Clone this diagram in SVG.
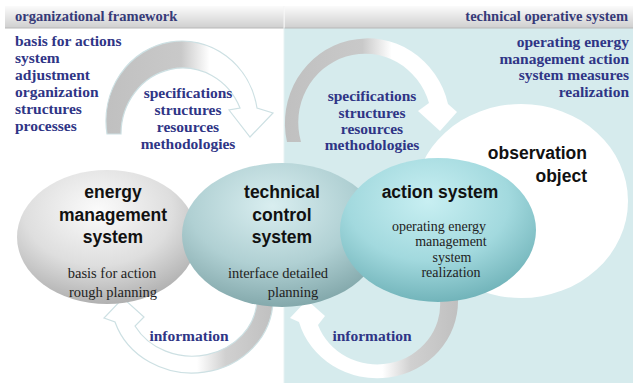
<svg xmlns="http://www.w3.org/2000/svg" width="633" height="383" viewBox="0 0 633 383">
<defs>
<style>
.hdr{font-family:"Liberation Serif","DejaVu Serif",serif;font-weight:bold;font-size:14.5px;fill:#363a78}
.lst{font-family:"Liberation Serif","DejaVu Serif",serif;font-weight:bold;font-size:15.5px;fill:#2f3586}
.ttl{font-family:"Liberation Sans",Arial,sans-serif;font-weight:bold;font-size:17.5px;fill:#111}
.sub{font-family:"Liberation Serif","DejaVu Serif",serif;font-size:14.5px;fill:#222}
.mid{text-anchor:middle}
.end{text-anchor:end}
.arrW{stroke:#cde0e3;stroke-width:1.2}
</style>
<linearGradient id="gHdr" x1="0" y1="0" x2="0" y2="1">
<stop offset="0" stop-color="#fbfbfb"/><stop offset="1" stop-color="#cfcfcf"/>
</linearGradient>
<linearGradient id="gArrL" x1="0" y1="0" x2="1" y2="0">
<stop offset="0" stop-color="#c0c0c0"/><stop offset="0.45" stop-color="#c9c9c9"/><stop offset="0.62" stop-color="#ffffff"/><stop offset="1" stop-color="#ffffff"/>
</linearGradient>
<linearGradient id="gArrR" x1="0" y1="0" x2="1" y2="0">
<stop offset="0" stop-color="#ffffff"/><stop offset="0.55" stop-color="#ffffff"/><stop offset="0.72" stop-color="#d0d0d0"/><stop offset="1" stop-color="#c0c0c0"/>
</linearGradient>
<radialGradient id="gEnergy" cx="0.45" cy="0.3" r="0.75">
<stop offset="0" stop-color="#fbfbfb"/><stop offset="0.55" stop-color="#dedede"/><stop offset="1" stop-color="#a9a9a9"/>
</radialGradient>
<radialGradient id="gTech" cx="0.45" cy="0.3" r="0.75">
<stop offset="0" stop-color="#d9eef0"/><stop offset="0.55" stop-color="#b0d0d3"/><stop offset="1" stop-color="#7ca2a5"/>
</radialGradient>
<radialGradient id="gAction" cx="0.45" cy="0.3" r="0.75">
<stop offset="0" stop-color="#c8eff2"/><stop offset="0.55" stop-color="#a2d9de"/><stop offset="1" stop-color="#6aaeb4"/>
</radialGradient>
</defs>

<g id="background">
<rect x="0" y="0" width="633" height="383" fill="#ffffff"/>
<rect x="284" y="28" width="349" height="355" fill="#d6ebed"/>
<rect x="5" y="6" width="279" height="22" fill="url(#gHdr)"/>
<rect x="284.5" y="6" width="348.5" height="22" fill="url(#gHdr)"/>
<line x1="5" y1="28" x2="633" y2="28" stroke="#b8b8b8" stroke-width="1"/>
<line x1="284" y1="6" x2="284" y2="28" stroke="#f4f4f4" stroke-width="1"/>
<line x1="284" y1="28" x2="284" y2="383" stroke="#e6f2f3" stroke-width="1"/>
<text class="hdr" x="15" y="21">organizational framework</text>
<text class="hdr end" x="628" y="21">technical operative system</text>
</g>

<g id="connectors">
<path class="arrW" d="M107,134 A76,80 0 0 1 257,108 L273,113 L250,137 L229,110 L240,108 A62,66 0 0 0 121,134 Z" fill="url(#gArrL)"/>
<path d="M287,142 A80,82 0 0 1 448,104 L457,112 L440,131 L418,111 L429,103 A66,68 0 0 0 301,142 Z" fill="url(#gArrL)"/>
<path class="arrW" d="M273,300 A81,74 0 0 1 115,322 L104,318 L123,298 L144,317 L135,326 A65,58 0 0 0 257,300 Z" fill="url(#gArrR)"/>
<path d="M458,300 A81,77 0 0 1 299,322 L290,318 L307,300 L325,316 L318,325 A63,60 0 0 0 440,300 Z" fill="url(#gArrR)"/>
</g>

<g id="node-energy-management-system">
<ellipse cx="107" cy="237" rx="90" ry="67" fill="url(#gEnergy)"/>
<text class="ttl mid" x="113" y="198">energy</text>
<text class="ttl mid" x="113" y="221">management</text>
<text class="ttl mid" x="113" y="243">system</text>
<text class="sub mid" x="112" y="278">basis for action</text>
<text class="sub mid" x="113" y="297">rough planning</text>
</g>

<g id="node-technical-control-system">
<ellipse cx="282" cy="235" rx="100" ry="72" fill="url(#gTech)"/>
<text class="ttl mid" x="282" y="198">technical</text>
<text class="ttl mid" x="282" y="221">control</text>
<text class="ttl mid" x="282" y="243">system</text>
<text class="sub mid" x="278" y="278">interface detailed</text>
<text class="sub mid" x="293" y="297">planning</text>
</g>

<g id="node-observation-object">
<ellipse cx="521" cy="201" rx="107" ry="97" fill="#ffffff"/>
<text class="ttl end" x="587" y="159">observation</text>
<text class="ttl end" x="587" y="182">object</text>
</g>

<g id="node-action-system">
<ellipse cx="438" cy="230" rx="98" ry="72" fill="url(#gAction)"/>
<text class="ttl mid" x="440" y="198">action system</text>
<text class="sub mid" x="439" y="231" style="font-size:14px">operating energy</text>
<text class="sub mid" x="451" y="246" style="font-size:14px">management</text>
<text class="sub mid" x="452" y="262" style="font-size:14px">system</text>
<text class="sub mid" x="451" y="277" style="font-size:14px">realization</text>
</g>

<g id="label-organizational-list">
<text class="lst" x="15" y="46">basis for actions</text>
<text class="lst" x="15" y="63">system</text>
<text class="lst" x="15" y="80">adjustment</text>
<text class="lst" x="15" y="97">organization</text>
<text class="lst" x="15" y="114">structures</text>
<text class="lst" x="15" y="131">processes</text>
</g>

<g id="label-operative-list">
<text class="lst end" x="629" y="47">operating energy</text>
<text class="lst end" x="629" y="64">management action</text>
<text class="lst end" x="629" y="80">system measures</text>
<text class="lst end" x="629" y="97">realization</text>
</g>

<g id="label-specifications-left">
<text class="lst mid" x="188" y="98">specifications</text>
<text class="lst mid" x="188" y="115">structures</text>
<text class="lst mid" x="188" y="132">resources</text>
<text class="lst mid" x="188" y="149">methodologies</text>
</g>

<g id="label-specifications-right">
<text class="lst mid" x="372" y="101">specifications</text>
<text class="lst mid" x="372" y="118">structures</text>
<text class="lst mid" x="372" y="134">resources</text>
<text class="lst mid" x="372" y="150">methodologies</text>
</g>

<g id="label-information">
<text class="lst mid" x="189" y="341">information</text>
<text class="lst mid" x="372" y="341">information</text>
</g>
</svg>
